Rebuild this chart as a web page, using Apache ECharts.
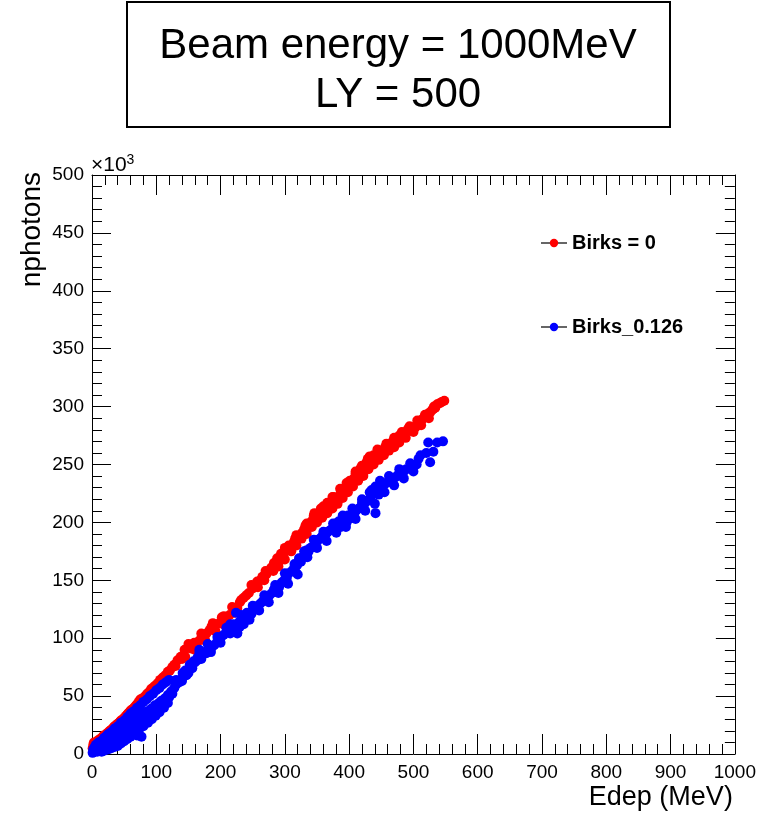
<!DOCTYPE html>
<html>
<head>
<meta charset="utf-8">
<script src="https://cdn.jsdelivr.net/npm/echarts@6/dist/echarts.min.js"></script>
<style>
  html, body { margin: 0; padding: 0; background: #fff; }
  #chart { width: 759px; height: 813px; }
</style>
</head>
<body>
<div id="chart"></div>
<script>
// Deposited energy (MeV) vs. number of scintillation photons (x10^3)
var xTicks = [0, 100, 200, 300, 400, 500, 600, 700, 800, 900, 1000];
var yTicks = [0, 50, 100, 150, 200, 250, 300, 350, 400, 450, 500];

// Birks = 0 : [Edep, nphotons/1000]
var birks0 = [
  [1,5],[2,8],[3,6],[3,10],[4,9],[5,7],[6,10],[6,7],[7,8],[8,11],[9,9],[10,12],[10,9],
  [12,11],[13,13],[14,12],[15,14],[17,13],[18,16],[19,13],[20,15],[22,17],[23,16],
  [24,18],[26,19],[27,18],[28,20],[30,21],[31,20],[32,22],[34,23],[35,24],[36,22],
  [38,25],[39,24],[40,26],[42,27],[44,28],[45,29],[47,29],[48,30],[50,31],[52,32],
  [53,33],[55,34],[56,35],[58,36],[60,37],[61,38],[63,38],[64,39],[66,40],[67,41],
  [69,42],[70,43],[72,44],[73,45],[75,47],[76,46],[78,48],[80,48],[82,49],[83,50],
  [85,51],[86,52],[88,53],[90,54],[92,56],[94,57],[95,55],[98,59],[102,61],[105,60],
  [106,64],[110,66],[114,68],[115,66],[118,71],[121,72],[125,75],[128,77],[130,76],
  [133,81],[138,84],[140,82],[144,90],[145,84],[150,92],[150,95],[155,91],[159,96],
  [160,90],[162,95],[167,98],[170,104],[172,102],[175,101],[176,98],[178,104],
  [183,107],[186,110],[188,113],[190,110],[192,106],[195,112],[200,114],[202,118],
  [204,112],[205,119],[209,118],[214,120],[218,127],[222,122],[226,126],[230,131],
  [232,133],[236,135],[240,137],[244,139],[248,146],[250,143],[253,145],[257,149],
  [258,144],[262,150],[265,153],[268,150],[270,158],[271,155],[275,158],[279,161],
  [282,158],[283,165],[286,164],[288,169],[290,162],[291,166],[294,173],[298,172],
  [300,168],[300,178],[303,176],[306,180],[309,179],[310,175],[314,183],[316,186],
  [318,180],[318,189],[320,187],[323,188],[326,186],[327,191],[330,194],[332,197],
  [334,190],[334,199],[337,197],[340,200],[342,196],[344,203],[345,206],[346,208],
  [348,205],[350,200],[351,204],[353,207],[356,212],[358,204],[358,209],[360,214],
  [361,210],[364,212],[366,208],[366,217],[369,215],[371,214],[373,217],[374,212],
  [374,222],[376,222],[379,220],[381,219],[382,216],[384,222],[386,229],[387,226],
  [390,221],[390,225],[392,229],[395,228],[396,234],[397,230],[398,226],[399,233],
  [401,236],[404,234],[406,231],[406,237],[408,238],[410,242],[410,244],[412,239],
  [414,236],[414,240],[416,243],[418,247],[420,249],[420,245],[422,240],[422,244],
  [424,248],[426,249],[427,252],[429,255],[430,246],[431,253],[432,257],[433,256],
  [435,254],[438,250],[438,258],[440,255],[442,257],[444,263],[445,260],[446,254],
  [447,262],[449,258],[452,259],[454,258],[454,262],[456,265],[458,264],[458,268],
  [461,265],[462,262],[463,268],[466,267],[468,270],[470,265],[470,273],[472,269],
  [474,272],[476,271],[478,269],[478,275],[480,274],[482,278],[484,277],[486,276],
  [488,273],[490,279],[492,281],[494,283],[495,280],[498,282],[500,278],[503,282],
  [505,284],[506,288],[508,286],[511,288],[512,284],[514,289],[517,291],[518,293],
  [520,292],[523,294],[524,290],[526,295],[529,297],[531,298],[532,300],[534,299],
  [537,302],[541,303],[544,304],[548,305]
];

// Birks constant 0.126 : [Edep, nphotons/1000]
var birks0126 = [
  [1,1],[2,4],[3,2],[4,6],[5,3],[6,8],[7,5],[8,2],[9,7],[10,10],[11,4],[12,8],
  [13,6],[14,11],[15,9],[15,2],[16,5],[17,12],[18,8],[19,14],[20,10],[20,14],[20,3],
  [21,6],[22,13],[23,16],[24,9],[25,12],[25,17],[25,4],[26,17],[27,14],[28,10],
  [30,18],[30,19],[30,5],[31,15],[32,12],[34,19],[35,16],[35,22],[35,6],[36,13],
  [38,20],[39,17],[40,14],[40,24],[40,7],[42,22],[43,18],[45,16],[45,27],[45,9],
  [46,23],[48,20],[50,18],[50,29],[50,11],[52,25],[53,22],[55,20],[55,32],[55,13],
  [57,27],[58,24],[60,22],[60,35],[60,15],[62,29],[64,26],[65,37],[66,24],[66,18],
  [68,31],[70,28],[70,16],[70,40],[72,26],[73,21],[74,33],[75,42],[76,30],[77,15],
  [78,28],[80,35],[80,45],[80,24],[82,32],[84,30],[85,47],[86,37],[87,27],[88,34],
  [90,32],[90,50],[92,39],[93,30],[94,36],[95,52],[96,34],[98,42],[99,33],[100,39],
  [100,55],[102,37],[104,44],[105,57],[105,36],[106,41],[108,46],[110,43],[110,60],
  [112,40],[113,48],[115,62],[116,45],[118,51],[118,44],[120,49],[120,64],[123,54],
  [125,52],[128,57],[131,60],[131,64],[136,62],[140,63],[141,66],[141,70],
  [145,72],[147,68],[150,70],[152,75],[152,77],[156,74],[158,80],[160,79],[164,81],
  [164,83],[167,87],[167,90],[170,82],[170,85],[175,88],[178,87],[180,95],[183,91],
  [185,88],[186,92],[190,94],[194,96],[195,101],[198,98],[200,96],[201,101],
  [205,103],[209,109],[211,109],[215,104],[215,107],[215,112],[220,112],[224,122],
  [226,104],[226,105],[229,114],[230,110],[232,120],[233,117],[236,112],[238,118],
  [241,122],[244,120],[245,116],[248,121],[250,128],[251,124],[255,126],[258,128],
  [260,124],[262,130],[266,132],[268,137],[271,135],[275,131],[276,137],[280,139],
  [283,142],[285,146],[287,143],[290,139],[291,144],[295,148],[299,150],[300,156],
  [303,152],[305,147],[306,156],[311,158],[314,160],[315,164],[317,157],[319,163],
  [320,155],[322,169],[325,166],[328,170],[330,175],[331,172],[334,176],[335,170],
  [337,175],[340,178],[343,179],[345,185],[346,181],[349,183],[350,178],[352,185],
  [355,186],[358,188],[360,192],[361,187],[364,190],[365,184],[367,192],[370,193],
  [373,194],[375,199],[376,195],[379,199],[380,191],[381,197],[384,201],[387,196],
  [390,200],[390,206],[393,202],[395,196],[396,200],[398,206],[400,203],[404,205],
  [405,212],[406,208],[408,207],[410,203],[412,211],[415,212],[418,213],[420,217],
  [420,220],[423,215],[425,210],[427,218],[430,219],[432,226],[433,221],[435,228],
  [438,225],[440,216],[441,231],[441,208],[444,226],[446,224],[448,236],[450,232],
  [452,230],[455,226],[455,233],[458,234],[461,235],[462,240],[466,237],[469,238],
  [470,232],[472,239],[476,241],[478,246],[481,243],[485,238],[485,244],[489,246],
  [495,247],[495,251],[500,244],[500,248],[505,250],[508,255],[511,258],[520,260],
  [523,269],[526,252],[531,261],[537,269],[546,270]
];

var seriesNames = ['Birks = 0', 'Birks_0.126'];
var seriesColors = ['#ff0000', '#0000ff'];
var titleLines = ['Beam energy = 1000MeV', 'LY = 500'];

var FONT = '"Liberation Sans", Arial, Helvetica, sans-serif';

// legend marker: short black line with a coloured dot, ROOT style
function legendIcon(color) {
  var svg = '<svg xmlns="http://www.w3.org/2000/svg" width="26" height="10">' +
    '<line x1="0" y1="5" x2="26" y2="5" stroke="black" stroke-width="1.2"/>' +
    '<circle cx="13" cy="5" r="4.2" fill="' + color + '"/></svg>';
  return 'image://data:image/svg+xml;charset=utf-8,' + encodeURIComponent(svg);
}

function frameAxis(pos, isX, showLabels) {
  return {
    type: 'value',
    position: pos,
    min: isX ? xTicks[0] : yTicks[0],
    max: isX ? xTicks[xTicks.length - 1] : yTicks[yTicks.length - 1],
    interval: isX ? 100 : 50,
    axisLine: { show: true, onZero: false, lineStyle: { color: '#000', width: 1 } },
    axisTick: { show: true, inside: true, length: isX ? 20 : 19, lineStyle: { color: '#000', width: 1 } },
    minorTick: { show: true, splitNumber: 5, length: 10, lineStyle: { color: '#000', width: 1 } },
    splitLine: { show: false },
    minorSplitLine: { show: false },
    axisLabel: {
      show: showLabels,
      margin: isX ? 9 : 8,
      color: '#000',
      fontSize: 19,
      fontFamily: FONT,
      formatter: function (v) { return String(v); }
    }
  };
}

var xMain = frameAxis('bottom', true, true);
xMain.name = 'Edep (MeV)';
xMain.nameLocation = 'end';
xMain.nameGap = -2;
xMain.nameTextStyle = {
  fontSize: 27, fontFamily: FONT, color: '#000',
  align: 'right', verticalAlign: 'top', padding: [30, 0, 0, 0]
};
var xTop = frameAxis('top', true, false);

var yMain = frameAxis('left', false, true);
yMain.name = 'nphotons';
yMain.nameLocation = 'end';
yMain.nameGap = 3;
yMain.nameRotate = 90;
yMain.nameTextStyle = {
  fontSize: 28, fontFamily: FONT, color: '#000',
  align: 'right', verticalAlign: 'bottom', padding: [0, 0, 46, 0]
};
var yRight = frameAxis('right', false, false);

var chart = echarts.init(document.getElementById('chart'), null, { renderer: 'canvas' });

chart.setOption({
  backgroundColor: '#fff',
  animation: false,
  grid: { left: 92, right: 21, top: 175, bottom: 59, containLabel: false },
  xAxis: [xMain, xTop],
  yAxis: [yMain, yRight],
  legend: {
    orient: 'vertical',
    left: 536,
    top: 228,
    itemWidth: 26,
    itemHeight: 10,
    itemGap: 64,
    textStyle: { fontSize: 20, fontWeight: 'bold', color: '#000', fontFamily: FONT },
    data: [
      { name: seriesNames[0], icon: legendIcon(seriesColors[0]) },
      { name: seriesNames[1], icon: legendIcon(seriesColors[1]) }
    ]
  },
  graphic: [
    {
      type: 'rect',
      shape: { x: 127, y: 2, width: 543, height: 125 },
      style: { fill: '#fff', stroke: '#000', lineWidth: 2 }
    },
    {
      type: 'text', x: 398, y: 46,
      style: { text: titleLines[0], fill: '#000', fontSize: 42, fontFamily: FONT,
               textAlign: 'center', textVerticalAlign: 'middle' }
    },
    {
      type: 'text', x: 398, y: 95,
      style: { text: titleLines[1], fill: '#000', fontSize: 42, fontFamily: FONT,
               textAlign: 'center', textVerticalAlign: 'middle' }
    },
    {
      type: 'text', x: 91, y: 177,
      style: {
        text: '\u00d710{s|3}', fill: '#000', fontSize: 21, fontFamily: FONT,
        textAlign: 'left', textVerticalAlign: 'bottom',
        rich: { s: { fontSize: 14, fontFamily: FONT, fill: '#000', padding: [0, 0, 10, 0] } }
      }
    }
  ],
  series: [
    {
      name: seriesNames[0], type: 'scatter', xAxisIndex: 0, yAxisIndex: 0,
      data: birks0, symbol: 'circle', symbolSize: 10,
      itemStyle: { color: seriesColors[0], opacity: 1 }
    },
    {
      name: seriesNames[1], type: 'scatter', xAxisIndex: 0, yAxisIndex: 0,
      data: birks0126, symbol: 'circle', symbolSize: 10,
      itemStyle: { color: seriesColors[1], opacity: 1 }
    }
  ]
});
</script>
</body>
</html>
